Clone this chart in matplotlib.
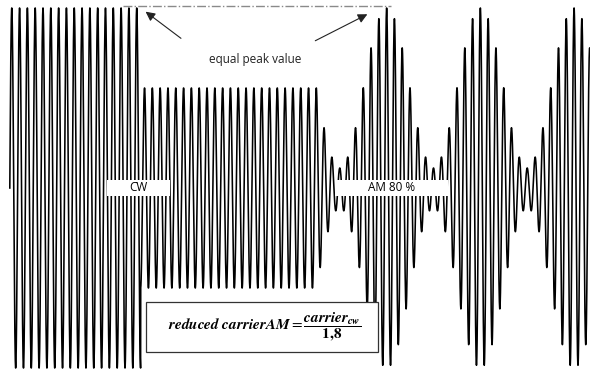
import numpy as np
import matplotlib
matplotlib.use("Agg")
import matplotlib.pyplot as plt
from matplotlib.patches import Rectangle

plt.rcParams['mathtext.fontset'] = 'stix'

# carrier cycles for each section of the trace
cw_cycles = 16.75          # full-amplitude CW
reduced_end = 39.25        # end of the reduced carrier, start of AM
total_cycles = 75.5
mod_depth = 0.8            # AM 80 %
mod_period = 12            # carrier cycles per modulation cycle
reduction = 1.8            # CW peak / reduced carrier
labels = ["CW", "AM 80 %"]
note = "equal peak value"

t = np.linspace(0, total_cycles, 30000)
env = np.where(t < cw_cycles, reduction, 1.0)
am = t >= reduced_end
env[am] = 1 - mod_depth * np.sin(2 * np.pi * (t[am] - reduced_end) / mod_period)
y = env * np.sin(2 * np.pi * t)

fig = plt.figure(figsize=(5.9, 3.73), dpi=100)
ax = fig.add_axes([0, 0, 1, 1])
ax.plot(t, y, color='black', lw=1.15, zorder=2)
ax.set_xlim(-1.255, 74.29)
ax.set_ylim(-1.85, 1.88)
ax.axis('off')

# dash-dot line marking the common peak
ax.plot([14.5, 48.8], [1.82, 1.82], color='#8a8a8a', lw=1.0, ls='-.', zorder=3)
ax.annotate("", xy=(17.1, 1.78), xytext=(22.2, 1.48),
            arrowprops=dict(arrowstyle='-|>', color='#222222', lw=0.8, mutation_scale=14))
ax.annotate("", xy=(46.1, 1.75), xytext=(38.8, 1.46),
            arrowprops=dict(arrowstyle='-|>', color='#222222', lw=0.8, mutation_scale=14))
ax.text(31.4, 1.28, note, ha='center', va='center', fontsize=8.5, family='Open Sans', color='#222222')

# white boxes behind the labels
ax.add_patch(Rectangle((12.4, -0.08), 8.1, 0.16, facecolor='white', edgecolor='none', zorder=4))
ax.text(16.4, 0.0, labels[0], ha='center', va='center', fontsize=8.5, family='Open Sans', zorder=5)
ax.add_patch(Rectangle((41.6, -0.08), 14.5, 0.16, facecolor='white', edgecolor='none', zorder=4))
ax.text(48.9, 0.0, labels[1], ha='center', va='center', fontsize=8.5, family='Open Sans', zorder=5)

# formula box
ax.add_patch(Rectangle((17.44, -1.64), 29.7, 0.50, facecolor='white', edgecolor='#333333', lw=0.9, zorder=4))
formula = (r"$\mathbfit{reduced\ carrierAM} = "
           r"\dfrac{\mathbfit{carrier}_{\mathbfit{cw}}}{\mathbf{1{,}8}}$")
ax.text(32.6, -1.39, formula, ha='center', va='center', fontsize=11, zorder=5)

fig.savefig("out.png", dpi=100)
